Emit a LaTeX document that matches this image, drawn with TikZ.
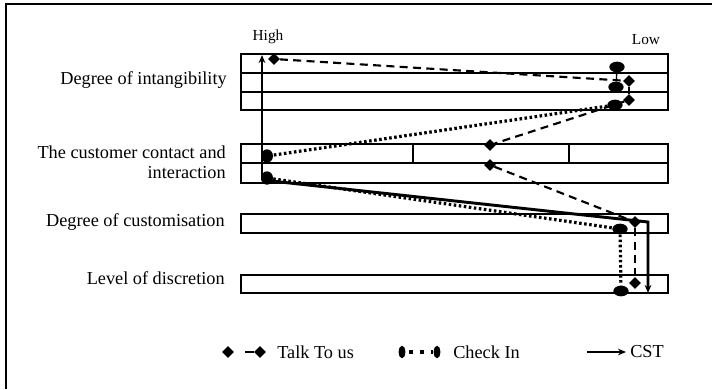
\documentclass[tikz,border=0pt]{standalone}
\usepackage{fontspec}
\setmainfont{Liberation Serif}
\usetikzlibrary{shapes.geometric,arrows.meta}
\begin{document}
\begin{tikzpicture}[x=0.75pt,y=-0.75pt,
 boxline/.style={line width=1pt},
 lab/.style={anchor=east,font=\fontsize{13.7}{15}\selectfont,inner sep=0pt,align=right},
 legtxt/.style={anchor=west,font=\fontsize{13.7}{15}\selectfont,inner sep=0pt},
 hilo/.style={font=\fontsize{11.5}{13}\selectfont,inner sep=0pt},
 dmark/.style={diamond,fill=black,inner sep=0pt,minimum size=9pt},
 emark/.style={ellipse,fill=black,inner sep=0pt,minimum width=11.5pt,minimum height=8pt},
 vemark/.style={ellipse,fill=black,inner sep=0pt,minimum width=5pt,minimum height=9.5pt},
 tline/.style={line width=1.6pt,dash pattern=on 6pt off 4pt},
 cline/.style={line width=2.4pt,dash pattern=on 1.9pt off 1.9pt},
 sline/.style={line width=2.2pt},
 tip/.style={-{Stealth[length=6pt,width=5pt]}},
 thinl/.style={line width=1pt}
]
\useasboundingbox (0,0) rectangle (712,389);
% outer frame (left and top edges)
\draw[line width=0.8pt] (6,389) -- (6,4) -- (712,4);

% boxes
\draw[boxline] (241,54) rectangle (668,110);
\draw[boxline] (241,73) -- (668,73);
\draw[boxline] (241,92) -- (668,92);
\draw[boxline] (241,144) rectangle (668,183);
\draw[boxline] (241,163) -- (668,163);
\draw[boxline] (413,144) -- (413,163);
\draw[boxline] (569,144) -- (569,163);
\draw[boxline] (241,214) rectangle (668,233);
\draw[boxline] (241,275) rectangle (668,293);

% labels
\node[lab] (l1) at (227,80) {Degree of intangibility};
\node[lab] (l2) at (226,162) {The customer contact and\\interaction};
\node[lab] (l3) at (225,222) {Degree of customisation};
\node[lab] (l4) at (225,278) {Level of discretion};
\node[hilo] (hi) at (268,37) {High};
\node[hilo] (lo) at (646,40) {Low};

% CST
\coordinate (s1) at (262,55);
\coordinate (s2) at (262,180);
\coordinate (s3) at (648,222);
\coordinate (s4) at (648,293);
\draw[sline,tip] (s2) -- (s1);
\draw[sline,tip] (s2) -- (s3) -- (s4);

% Check In
\node[emark] (c1) at (617,67) {};
\node[emark] (c2) at (616,87) {};
\node[emark] (c3) at (615,105) {};
\node[emark,minimum width=9pt,minimum height=10pt] (c4) at (267,156) {};
\node[emark,minimum width=9pt,minimum height=10pt] (c5) at (267,178) {};
\node[emark] (c6) at (620,229) {};
\node[emark] (c7) at (621,291) {};
\draw[thinl] (c1) -- (c2);
\draw[cline] (c3) -- (c4);
\draw[cline] (c5) -- (c6);
\draw[cline] (c6) -- (c7);

% Talk To us
\node[dmark] (t1) at (274,59) {};
\node[dmark] (t2) at (629,81) {};
\node[dmark] (t3) at (629,100) {};
\node[dmark] (t4) at (490,145) {};
\node[dmark] (t5) at (490,165) {};
\node[dmark] (t6) at (635,222) {};
\node[dmark] (t7) at (635,283) {};
\draw[tline] (t1) -- (t2);
\draw[thinl] (t2) -- (t3);
\draw[tline] (t3) -- (t4);
\draw[tline] (t5) -- (t6);
\draw[tline] (t6) -- (t7);

% legend
\node[dmark] (g1) at (228,352) {};
\node[dmark] (g2) at (260,352) {};
\draw[line width=1.6pt,dash pattern=on 0pt off 8pt on 8pt off 2pt] (g1) -- (g2);
\node[legtxt] (gt1) at (277,352) {Talk To us};
\node[vemark] (h1) at (402,352) {};
\node[vemark] (h2) at (437,352) {};
\draw[line width=2.4pt,dash pattern=on 0pt off 2.8pt on 2.6pt off 2.8pt] (h1) -- (h2);
\node[legtxt] (gt2) at (453,352) {Check In};
\coordinate (k1) at (587,352);
\coordinate (k2) at (626,352);
\draw[sline,tip] (k1) -- (k2);
\node[legtxt] (gt3) at (630,352) {CST};
\end{tikzpicture}
\end{document}
